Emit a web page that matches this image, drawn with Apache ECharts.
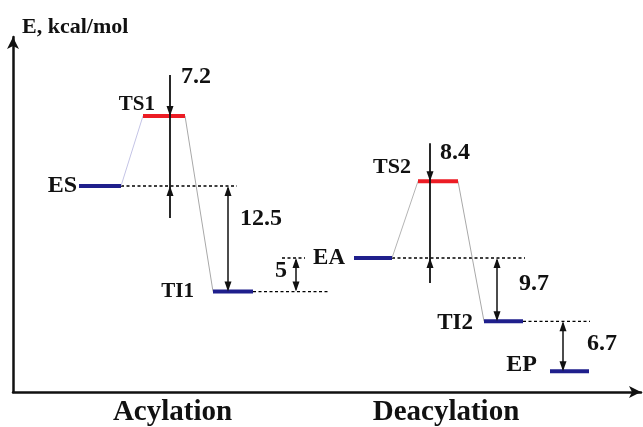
<!DOCTYPE html>
<html>
<head>
<meta charset="utf-8">
<script src="https://cdn.jsdelivr.net/npm/echarts@6/dist/echarts.min.js"></script>
<style>html,body{margin:0;padding:0;background:#fff}#c{width:643px;height:427px}</style>
</head>
<body>
<div id="c"></div>
<script>
// ---- data ----
const levelNames = ['ES', 'TS1', 'TI1', 'EA', 'TS2', 'TI2', 'EP'];
const levelStart = [6.6, 13.0, 20.0, 34.1, 40.5, 47.1, 53.7];
const levelEnd = [10.8, 17.2, 24.0, 37.9, 44.5, 51.0, 57.6];
const levelEnergy = [0, 7.3, -11.0, -7.5, 0.5, -14.1, -19.3];
const levelIsTS = [false, true, false, false, true, false, false];

const connectFrom = [0, 1, 3, 4];
const connectTo = [1, 2, 4, 5];

const guideLevel = [0, 2, 3, 3, 5];
const guideStart = [10.8, 24.0, 26.9, 37.9, 51.0];
const guideEnd = [22.4, 31.7, 29.2, 51.2, 57.7];

const gapLabels = ['7.2', '12.5', '5', '8.4', '9.7', '6.7'];
const gapX = [15.7, 21.5, 28.3, 41.7, 48.4, 55.0];
const gapUpper = [1, 0, 3, 4, 3, 5];
const gapLower = [0, 2, 2, 3, 5, 6];

const phaseNames = ['Acylation', 'Deacylation'];
const phaseCenter = [15.95, 43.3];
const yAxisTitle = 'E, kcal/mol';

// ---- layout / style (not data) ----
const serif = '"Liberation Serif","Times New Roman",serif';
const nameOffset = [[-2, 0], [12, -11], [-19, 0], [-9, 0], [-7, -14], [-11, 2], [-13, -6]];
const nameSize = [24, 21, 21, 23, 22, 23, 24];
const gapOutside = [true, false, false, true, false, false];
const gapExt = [[41, 32], null, null, [38, 25], null, null];
const gapLabelPos = [[11, -74, 'left'], [12, -20, 'left'], [-9, -4, 'right'], [10, -67, 'left'], [22, -6, 'left'], [24, -3, 'left']];
const connectColor = ['#c4c4e6', '#a8a8a8', '#b4b4b4', '#a8a8a8'];

function head(x, y, dir) { // dir=1 pointing down, -1 pointing up
  return { type: 'polygon', shape: { points: [[x, y], [x - 3.5, y - dir * 10], [x + 3.5, y - dir * 10]] }, style: { fill: '#111' } };
}

const chart = echarts.init(document.getElementById('c'), null, { renderer: 'canvas' });
chart.setOption({
  animation: false,
  title: { text: yAxisTitle, left: 17, top: 11, textStyle: { fontFamily: serif, fontWeight: 'bold', fontSize: 22, color: '#111' } },
  grid: { left: 13, right: 2, top: 37, bottom: 35 },
  xAxis: {
    type: 'value', min: 0, max: 62.8,
    axisLine: { onZero: false, symbol: ['none', 'arrow'], symbolSize: [9, 12], lineStyle: { color: '#111', width: 2.5 } },
    axisTick: { show: false }, splitLine: { show: false },
    axisLabel: {
      customValues: phaseCenter, margin: 6,
      formatter: v => phaseNames[phaseCenter.indexOf(v)],
      fontFamily: serif, fontWeight: 'bold', fontSize: 29, color: '#111'
    }
  },
  yAxis: {
    type: 'value', min: -21.46, max: 15.52,
    axisLine: { show: true, onZero: false, symbol: ['none', 'arrow'], symbolSize: [9, 12], lineStyle: { color: '#111', width: 2.5 } },
    axisTick: { show: false }, splitLine: { show: false }, axisLabel: { show: false }
  },
  series: [
    { // guides
      type: 'custom', z: 1,
      data: guideLevel.map((l, i) => [guideStart[i], guideEnd[i], levelEnergy[l]]),
      renderItem: (p, api) => {
        const a = api.coord([api.value(0), api.value(2)]);
        const b = api.coord([api.value(1), api.value(2)]);
        return { type: 'line', shape: { x1: a[0], y1: a[1], x2: b[0], y2: b[1] }, style: { stroke: '#000', lineWidth: 1.3, lineDash: [3, 2.5] } };
      }
    },
    { // connectors
      type: 'custom', z: 1,
      data: connectFrom.map((f, i) => [levelEnd[f], levelEnergy[f], levelStart[connectTo[i]], levelEnergy[connectTo[i]], i]),
      renderItem: (p, api) => {
        const a = api.coord([api.value(0), api.value(1)]);
        const b = api.coord([api.value(2), api.value(3)]);
        return { type: 'line', shape: { x1: a[0], y1: a[1], x2: b[0], y2: b[1] }, style: { stroke: connectColor[api.value(4)], lineWidth: 1 } };
      }
    },
    { // levels
      type: 'custom', z: 2,
      data: levelNames.map((n, i) => [levelStart[i], levelEnd[i], levelEnergy[i], i]),
      renderItem: (p, api) => {
        const i = api.value(3);
        const a = api.coord([api.value(0), api.value(2)]);
        const b = api.coord([api.value(1), api.value(2)]);
        return { type: 'group', children: [
          { type: 'line', shape: { x1: a[0], y1: a[1], x2: b[0], y2: b[1] }, style: { stroke: levelIsTS[i] ? '#ec1c24' : '#1f1f8c', lineWidth: 4 } },
          { type: 'text', style: { text: levelNames[i], x: a[0] + nameOffset[i][0], y: a[1] + nameOffset[i][1], align: 'right', verticalAlign: 'middle', font: 'bold ' + nameSize[i] + 'px ' + serif, fill: '#111' } }
        ] };
      }
    },
    { // energy gap arrows
      type: 'custom', z: 3,
      data: gapLabels.map((t, i) => [gapX[i], levelEnergy[gapUpper[i]], levelEnergy[gapLower[i]], i]),
      renderItem: (p, api) => {
        const i = api.value(3);
        const u = api.coord([api.value(0), api.value(1)]);
        const l = api.coord([api.value(0), api.value(2)]);
        const x = u[0];
        const ch = [];
        if (gapOutside[i]) {
          ch.push({ type: 'line', shape: { x1: x, y1: u[1] - gapExt[i][0], x2: x, y2: l[1] + gapExt[i][1] }, style: { stroke: '#111', lineWidth: 1.8 } });
          ch.push(head(x, u[1], 1));
          ch.push(head(x, l[1], -1));
        } else {
          ch.push({ type: 'line', shape: { x1: x, y1: u[1] + 2, x2: x, y2: l[1] - 2 }, style: { stroke: '#111', lineWidth: 1.5 } });
          ch.push(head(x, u[1], -1));
          ch.push(head(x, l[1], 1));
        }
        const lp = gapLabelPos[i];
        ch.push({ type: 'text', style: { text: gapLabels[i], x: x + lp[0], y: (u[1] + l[1]) / 2 + lp[1], align: lp[2], verticalAlign: 'middle', font: 'bold 24px ' + serif, fill: '#111' } });
        return { type: 'group', children: ch };
      }
    }
  ]
});
</script>
</body>
</html>
